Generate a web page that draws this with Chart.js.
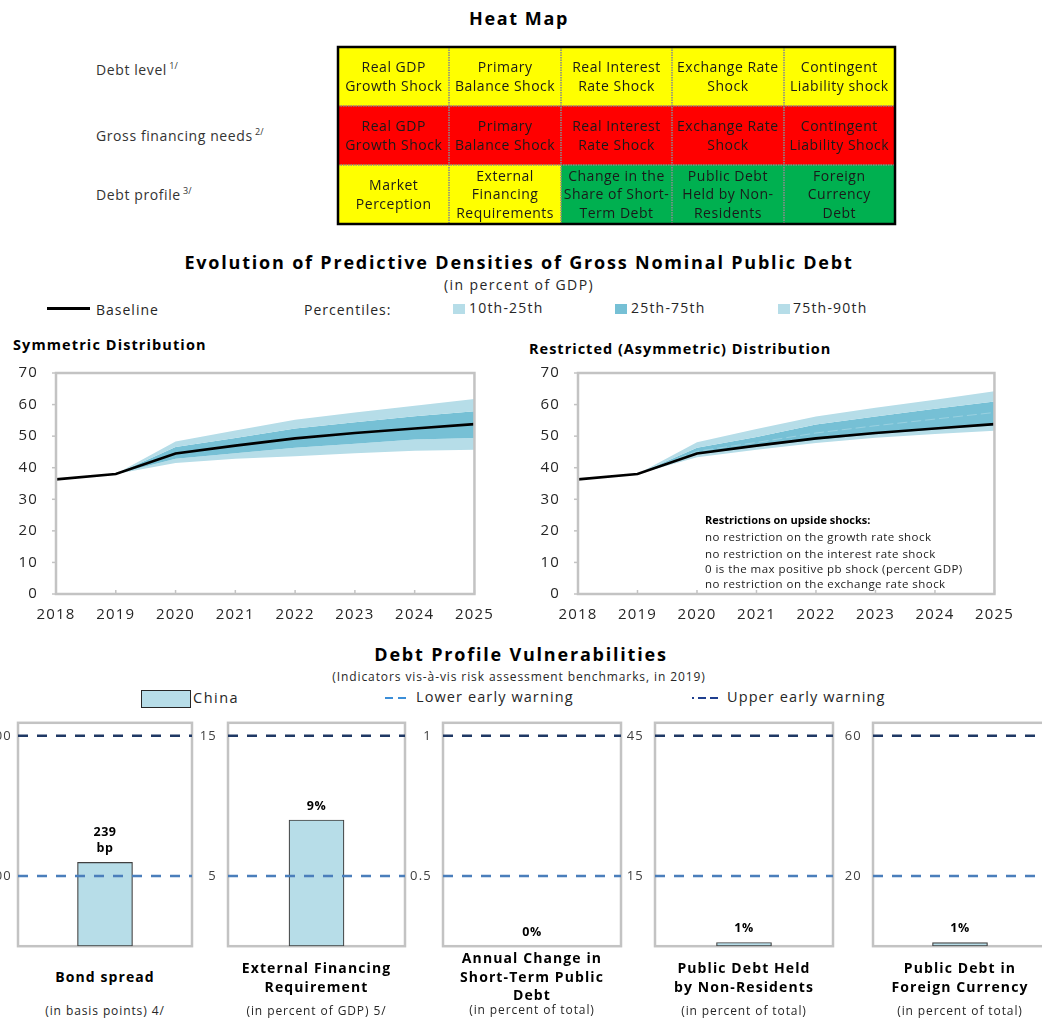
<!DOCTYPE html>
<html><head><meta charset="utf-8">
<script src="https://cdn.jsdelivr.net/npm/chart.js@4.4.0/dist/chart.umd.min.js"></script>
<style>
html,body{margin:0;padding:0;background:#fff;}
body{width:1042px;height:1022px;position:relative;overflow:hidden;font-family:"Open Sans","Noto Sans",sans-serif;color:#262626;}
.t{position:absolute;white-space:nowrap;line-height:1;}
.sw{position:absolute;}
canvas{display:block;position:absolute;}
</style></head><body>
<script>
// ---------------- DATA ----------------
const heatRows = ['Debt level', 'Gross financing needs', 'Debt profile'];
const heatRowNotes = ['1/', '2/', '3/'];
const heatCells = [
  ['Real GDP\nGrowth Shock', 'Primary\nBalance Shock', 'Real Interest\nRate Shock', 'Exchange Rate\nShock', 'Contingent\nLiability shock'],
  ['Real GDP\nGrowth Shock', 'Primary\nBalance Shock', 'Real Interest\nRate Shock', 'Exchange Rate\nShock', 'Contingent\nLiability Shock'],
  ['Market\nPerception', 'External\nFinancing\nRequirements', 'Change in the\nShare of Short-\nTerm Debt', 'Public Debt\nHeld by Non-\nResidents', 'Foreign\nCurrency\nDebt']
];
const heatLevels = [
  ['yellow', 'yellow', 'yellow', 'yellow', 'yellow'],
  ['red', 'red', 'red', 'red', 'red'],
  ['yellow', 'yellow', 'green', 'green', 'green']
];

const years = ['2018', '2019', '2020', '2021', '2022', '2023', '2024', '2025'];
const baseline = [36.3, 38.0, 44.5, 47.0, 49.3, 51.0, 52.4, 53.8];
const sym10 = [null, 38.0, 41.5, 42.8, 43.6, 44.6, 45.4, 45.7];
const sym25 = [null, 38.0, 42.8, 44.6, 46.3, 47.6, 48.9, 49.4];
const sym75 = [null, 38.0, 46.6, 49.4, 52.4, 54.4, 56.3, 57.9];
const sym90 = [null, 38.0, 48.3, 51.8, 55.2, 57.5, 59.6, 61.8];
const asy10 = [null, 38.0, 43.3, 45.7, 47.8, 49.5, 50.7, 51.7];
const asy25 = [null, 38.0, 44.2, 46.6, 48.8, 50.5, 52.0, 53.3];
const asy50 = [null, 38.0, 45.2, 48.0, 51.0, 53.3, 55.4, 57.5];
const asy75 = [null, 38.0, 46.3, 49.7, 53.7, 56.2, 58.7, 61.0];
const asy90 = [null, 38.0, 48.1, 52.3, 56.2, 59.0, 61.5, 64.2];
const restrictions = [
  'no restriction on the growth rate shock',
  'no restriction on the interest rate shock',
  '0 is the max positive pb shock (percent GDP)',
  'no restriction on the exchange rate shock'
];

const dpTitles = [
  ['Bond spread'],
  ['External Financing', 'Requirement'],
  ['Annual Change in', 'Short-Term Public', 'Debt'],
  ['Public Debt Held', 'by Non-Residents'],
  ['Public Debt in', 'Foreign Currency']
];
const dpUnits = ['(in basis points) 4/', '(in percent of GDP) 5/', '(in percent of total)', '(in percent of total)', '(in percent of total)'];
const dpValues = [239, 9, 0, 0.8, 1.0];
const dpLower = [200, 5, 0.5, 15, 20];
const dpUpper = [600, 15, 1, 45, 60];

// ---------------- HELPERS ----------------
const F = '"Open Sans","Noto Sans",sans-serif';
Chart.defaults.font.family = F;
Chart.defaults.color = '#262626';
const LIGHT = '#b6dde8';
const DARK = '#76c0d5';
const COLORS = {yellow: '#ffff00', red: '#ff0000', green: '#00b050'};

function T(txt, x, y, o = {}) {
  const d = document.createElement('div');
  d.className = 't';
  d.textContent = txt;
  d.style.left = x + 'px';
  d.style.top = y + 'px';
  const tx = o.align === 'center' ? '-50%' : (o.align === 'right' ? '-100%' : '0');
  d.style.transform = `translate(${tx},-50%)`;
  d.style.fontSize = (o.size || 13) + 'px';
  if (o.ls) d.style.letterSpacing = o.ls + 'px';
  if (o.bold) d.style.fontWeight = 'bold';
  if (o.color) d.style.color = o.color;
  if (o.sup) {
    const s = document.createElement('span');
    s.textContent = ' ' + o.sup;
    s.style.fontSize = '9px';
    s.style.letterSpacing = '0';
    s.style.position = 'relative';
    s.style.top = '-6px';
    d.appendChild(s);
  }
  document.body.appendChild(d);
  return d;
}
function SW(x, y, w, h, bg, border) {
  const d = document.createElement('div');
  d.className = 'sw';
  d.style.left = x + 'px'; d.style.top = y + 'px';
  d.style.width = w + 'px'; d.style.height = h + 'px';
  d.style.background = bg;
  if (border) d.style.border = border;
  d.style.boxSizing = 'border-box';
  document.body.appendChild(d);
}
function C(x, y, w, h) {
  const c = document.createElement('canvas');
  c.width = w; c.height = h;
  c.style.left = x + 'px'; c.style.top = y + 'px';
  c.style.width = w + 'px'; c.style.height = h + 'px';
  document.body.appendChild(c);
  return c;
}
// place chart so that its plot area lands on the target box (page coords)
function fitArea(ch, cv, tgt) {
  for (let k = 0; k < 4; k++) {
    const a = ch.chartArea;
    const dw = (tgt.right - tgt.left) - (a.right - a.left);
    const dh = (tgt.bottom - tgt.top) - (a.bottom - a.top);
    if (Math.abs(dw) < 0.3 && Math.abs(dh) < 0.3) break;
    ch.resize(Math.round(ch.width + dw), Math.round(ch.height + dh));
  }
  const a = ch.chartArea;
  cv.style.left = (tgt.left - a.left) + 'px';
  cv.style.top = (tgt.top - a.top) + 'px';
}
const spacing = (px) => ({
  id: 'spacing',
  beforeUpdate(ch) { ch.ctx.letterSpacing = px + 'px'; },
  beforeDraw(ch) { ch.ctx.letterSpacing = px + 'px'; }
});
const BASE_OPTS = {responsive: false, maintainAspectRatio: false, animation: false};

// ---------------- HEAT MAP ----------------
T('Heat Map', 519, 18, {align: 'center', size: 18, bold: true, color: '#000', ls: 1.6});
const rowLabelY = [70, 136, 195];
heatRows.forEach((r, i) => T(r, 96, rowLabelY[i], {size: 14, ls: 0.6, sup: heatRowNotes[i], color: '#333'}));

const heatPlugin = {
  id: 'heat',
  afterDatasetsDraw(ch) {
    const ctx = ch.ctx, a = ch.chartArea;
    ctx.save();
    ctx.strokeStyle = '#8a8a8a';
    ctx.lineWidth = 1.6;
    ctx.setLineDash([1.5, 1]);
    const xs = ch.scales.x;
    for (let c = 1; c < heatCells[0].length; c++) {
      const px = Math.round(xs.getPixelForValue(c));
      ctx.beginPath(); ctx.moveTo(px, a.top); ctx.lineTo(px, a.bottom); ctx.stroke();
    }
    const m0 = ch.getDatasetMeta(0);
    for (let r = 1; r < heatRows.length; r++) {
      const e1 = m0.data[r - 1], e2 = m0.data[r];
      const py = Math.round((e1.y + e2.y) / 2);
      ctx.beginPath(); ctx.moveTo(a.left, py); ctx.lineTo(a.right, py); ctx.stroke();
    }
    ctx.setLineDash([]);
    ctx.strokeStyle = '#000';
    ctx.lineWidth = 2.5;
    ctx.strokeRect(a.left, a.top, a.width, a.height);
    ctx.fillStyle = '#1a1a1a';
    ctx.font = '14px ' + F;
    ctx.letterSpacing = '0.5px';
    ctx.textAlign = 'center';
    ctx.textBaseline = 'middle';
    ch.data.datasets.forEach((ds, c) => {
      const meta = ch.getDatasetMeta(c);
      meta.data.forEach((el, r) => {
        const lines = heatCells[r][c].split('\n');
        const cx = (el.x + el.base) / 2;
        const lh = 18.5;
        lines.forEach((ln, k) => ctx.fillText(ln, cx, el.y + 1 + (k - (lines.length - 1) / 2) * lh));
      });
    });
    ctx.restore();
  }
};
{
  const cv = C(336, 45, 561, 181);
  const ch = new Chart(cv, {
    type: 'bar',
    data: {
      labels: heatRows,
      datasets: heatCells[0].map((_, c) => ({
        data: heatRows.map(() => 1),
        backgroundColor: heatRows.map((_, r) => COLORS[heatLevels[r][c]]),
        borderWidth: 0, barPercentage: 1, categoryPercentage: 1
      }))
    },
    options: Object.assign({}, BASE_OPTS, {
      indexAxis: 'y',
      layout: {autoPadding: false, padding: 2},
      plugins: {legend: {display: false}, tooltip: {enabled: false}},
      scales: {
        x: {display: false, stacked: true, min: 0, max: 5},
        y: {display: false, stacked: true}
      }
    }),
    plugins: [heatPlugin]
  });
  fitArea(ch, cv, {left: 338, top: 47, right: 895, bottom: 224});
}

// ---------------- PREDICTIVE DENSITIES ----------------
T('Evolution of Predictive Densities of Gross Nominal Public Debt', 519, 262, {align: 'center', size: 18, bold: true, color: '#000', ls: 1.8});
T('(in percent of GDP)', 519, 285, {align: 'center', size: 14, ls: 1.4});
SW(47, 307, 43, 3, '#000');
T('Baseline', 96, 310, {size: 14, ls: 1});
T('Percentiles:', 304, 310, {size: 14, ls: 1});
SW(453, 304, 12, 10, LIGHT); T('10th-25th', 469, 308, {size: 14, ls: 1.2});
SW(615, 304, 12, 10, DARK); T('25th-75th', 631, 308, {size: 14, ls: 1.2});
SW(778, 304, 12, 10, LIGHT); T('75th-90th', 793, 308, {size: 14, ls: 1.2});
T('Symmetric Distribution', 13, 345, {size: 14.5, bold: true, color: '#000', ls: 1.1});
T('Restricted  (Asymmetric) Distribution', 529, 349, {size: 14.5, bold: true, color: '#000', ls: 1.0});

const frame = {
  id: 'frame',
  afterDatasetsDraw(ch) {
    const ctx = ch.ctx, a = ch.chartArea;
    ctx.save();
    ctx.strokeStyle = '#c3c3c3';
    ctx.lineWidth = 2.5;
    ctx.strokeRect(a.left, a.top, a.width, a.height);
    ctx.lineWidth = 1.5;
    ch.scales.y.ticks.forEach(t => {
      const py = ch.scales.y.getPixelForValue(t.value);
      ctx.beginPath(); ctx.moveTo(a.left - 4, py); ctx.lineTo(a.left, py); ctx.stroke();
    });
    years.forEach((_, i) => {
      const px = ch.scales.x.getPixelForValue(i);
      ctx.beginPath(); ctx.moveTo(px, a.bottom); ctx.lineTo(px, a.bottom - 4); ctx.stroke();
    });
    ctx.restore();
  }
};
const NONE = 'rgba(0,0,0,0)';
function bandChart(x0, w, tgt, p10, p25, p50, p75, p90) {
  const ds = [
    {data: p10, borderWidth: 0, borderColor: NONE, fill: false, backgroundColor: LIGHT, order: 4},
    {data: p25, borderWidth: 0, borderColor: NONE, fill: '-1', backgroundColor: LIGHT, order: 3},
    {data: p75, borderWidth: 0, borderColor: NONE, fill: '-1', backgroundColor: DARK, order: 2},
    {data: p90, borderWidth: 0, borderColor: NONE, fill: '-1', backgroundColor: LIGHT, order: 1}
  ];
  if (p50) ds.push({data: p50, borderWidth: 0.8, borderColor: 'rgba(255,255,255,0.32)', borderDash: [10, 4], fill: false, order: -1});
  ds.push({data: baseline, borderWidth: 2.6, borderColor: '#000', fill: false, order: -2});
  const cv = C(x0, 360, w, 270);
  const ch = new Chart(cv, {
    type: 'line',
    data: {labels: years, datasets: ds},
    options: Object.assign({}, BASE_OPTS, {
      layout: {autoPadding: false, padding: {top: 13, right: 26, left: 0, bottom: 0}},
      plugins: {legend: {display: false}, tooltip: {enabled: false}},
      elements: {point: {radius: 0}, line: {tension: 0}},
      scales: {
        x: {
          grid: {display: false, drawTicks: false}, border: {display: false},
          ticks: {font: {size: 15}, color: '#262626', padding: 12, maxRotation: 0, autoSkip: false},
          afterFit(s) { s.height = 36; }
        },
        y: {
          min: 0, max: 70,
          grid: {display: false, drawTicks: false}, border: {display: false},
          ticks: {stepSize: 10, font: {size: 15}, color: '#262626', padding: 18},
          afterFit(s) { s.width = 56; }
        }
      }
    }),
    plugins: [frame, spacing(1.2)]
  });
  fitArea(ch, cv, tgt);
}
bandChart(0, 500, {left: 56, top: 373, right: 474, bottom: 594}, sym10, sym25, null, sym75, sym90);
bandChart(520, 522, {left: 578, top: 373, right: 994, bottom: 594}, asy10, asy25, asy50, asy75, asy90);

T('Restrictions on upside shocks:', 705, 519, {size: 11, bold: true, color: '#000'});
[537, 554, 569, 584].forEach((y, i) => T(restrictions[i], 705, y, {size: 11.5, ls: 0.45, color: '#1a1a1a'}));

// ---------------- DEBT PROFILE ----------------
T('Debt Profile Vulnerabilities', 521, 654, {align: 'center', size: 18, bold: true, color: '#000', ls: 1.8});
T('(Indicators vis-à-vis risk assessment benchmarks, in 2019)', 519, 677, {align: 'center', size: 12, ls: 0.9});
SW(141, 690, 50, 18, '#b7dde8', '1px solid #262626');
T('China', 193, 698, {size: 14.5, ls: 1.5});
SW(385, 697, 8, 2, '#3b8ed8'); SW(398, 697, 8, 2, '#3b8ed8');
T('Lower early warning', 416, 697, {size: 14.5, ls: 1.1});
SW(692, 697, 2, 2, '#1f3f8f'); SW(698, 697, 8, 2, '#1f3f8f'); SW(710, 697, 8, 2, '#1f3f8f');
T('Upper early warning', 727, 697, {size: 14.5, ls: 1.1});

const panelL = [18, 228, 443, 655, 873];
const panelW = [174, 177, 178, 178, 174];
const dpPlugin = {
  id: 'dp',
  beforeDatasetsDraw(ch) {
    const ctx = ch.ctx, a = ch.chartArea;
    ctx.save();
    ctx.strokeStyle = '#c3c3c3';
    ctx.lineWidth = 2.5;
    ctx.strokeRect(a.left, a.top, a.width, a.height);
    ctx.restore();
  },
  afterDatasetsDraw(ch) {
    const ctx = ch.ctx, a = ch.chartArea, i = ch.options.plugins.dp.idx;
    const ys = ch.scales.y;
    ctx.save();
    ctx.lineWidth = 2.5;
    ctx.setLineDash([10, 9]);
    [[dpLower[i], '#4a7ebb'], [dpUpper[i], '#1f3864']].forEach(([v, col]) => {
      const py = ys.getPixelForValue(v);
      ctx.strokeStyle = col;
      ctx.beginPath(); ctx.moveTo(a.left, py); ctx.lineTo(a.right, py); ctx.stroke();
    });
    ctx.setLineDash([]);
    const el = ch.getDatasetMeta(0).data[0];
    const v = dpValues[i];
    const lines = i === 0 ? [String(v), 'bp'] : [Math.round(v) + '%'];
    ctx.fillStyle = '#000';
    ctx.font = 'bold 12.5px ' + F;
    ctx.letterSpacing = '0.5px';
    ctx.textAlign = 'center';
    ctx.textBaseline = 'middle';
    const top = Math.min(el.y, a.bottom);
    lines.forEach((ln, k) => ctx.fillText(ln, el.x, top - 14 - (lines.length - 1 - k) * 16));
    ctx.restore();
  }
};
dpValues.forEach((v, i) => {
  const yw = 40;
  const span = dpUpper[i] - dpLower[i];
  const cv = C(panelL[i] - yw, 715, yw + panelW[i] + 4, 233);
  const ch = new Chart(cv, {
    type: 'bar',
    data: {labels: ['China'], datasets: [{
      data: [v], backgroundColor: '#b7dde8', borderColor: '#404040', borderWidth: 1.2,
      borderSkipped: false, barThickness: 55
    }]},
    options: Object.assign({}, BASE_OPTS, {
      layout: {autoPadding: false, padding: {top: 8, right: 4, bottom: 2, left: 0}},
      plugins: {legend: {display: false}, tooltip: {enabled: false}, dp: {idx: i}},
      scales: {
        x: {display: false},
        y: {
          min: dpLower[i] - span / 2, max: dpUpper[i] + span * 13 / 140,
          grid: {display: false, drawTicks: false}, border: {display: false},
          afterBuildTicks(s) { s.ticks = [{value: dpLower[i]}, {value: dpUpper[i]}]; },
          ticks: {font: {size: 13}, color: '#404040', padding: i === 0 ? 6 : 11, callback: (val) => String(val)},
          afterFit(s) { s.width = yw; }
        }
      }
    }),
    plugins: [dpPlugin, spacing(1.2)]
  });
  fitArea(ch, cv, {left: panelL[i], top: 723, right: panelL[i] + panelW[i], bottom: 946});
  const cx = panelL[i] + panelW[i] / 2;
  const tl = dpTitles[i];
  const startY = tl.length === 1 ? 977 : (tl.length === 2 ? 968 : 958);
  tl.forEach((ln, k) => T(ln, cx, startY + k * 18.5, {align: 'center', size: 14, bold: true, color: '#000', ls: 1.1}));
  T(dpUnits[i], cx, tl.length === 3 ? 1010 : 1011, {align: 'center', size: 12, ls: 0.9});
});
</script>
</body></html>
